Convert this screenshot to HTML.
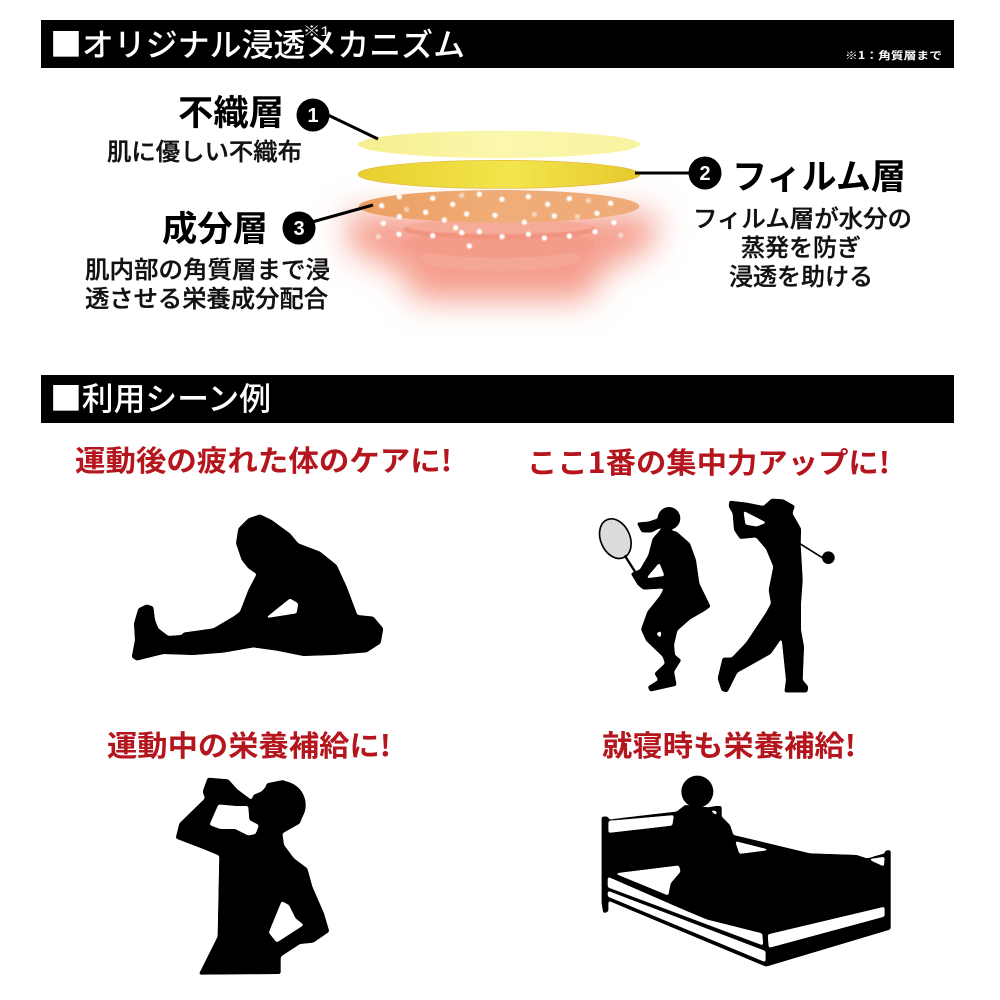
<!DOCTYPE html>
<html lang="ja">
<head>
<meta charset="utf-8">
<title>オリジナル浸透メカニズム</title>
<style>
html,body{margin:0;padding:0;background:#fff}
svg{display:block}
text{font-family:"Liberation Sans","Noto Sans CJK JP",sans-serif}
.t{font-family:"Noto Sans CJK JP",sans-serif;font-weight:500;font-size:24px;fill:#111;stroke:#111;stroke-width:.35px}
.h{font-family:"Noto Sans CJK JP",sans-serif;font-weight:700;font-size:35px;fill:#000}
.r{font-family:"Noto Sans CJK JP",sans-serif;font-weight:700;font-size:29px;fill:#b5161e}
.w{font-family:"Noto Sans CJK JP",sans-serif;font-weight:500;font-size:32px;fill:#fff}
</style>
</head>
<body>
<svg width="1000" height="1000" viewBox="0 0 1000 1000" xmlns="http://www.w3.org/2000/svg">
<defs>
<linearGradient id="l1" x1="0" x2="1" y1="0" y2="0"><stop offset="0" stop-color="#f6ee8e"/><stop offset=".5" stop-color="#fbf7ad"/><stop offset="1" stop-color="#f8f3a0"/></linearGradient>
<linearGradient id="l2" x1="0" x2="1" y1="0" y2="0"><stop offset="0" stop-color="#e8cf2e"/><stop offset=".55" stop-color="#f2e54c"/><stop offset="1" stop-color="#e6c92e"/></linearGradient>
<linearGradient id="l3" x1="0" x2="1" y1="0" y2="0"><stop offset="0" stop-color="#eb9f60"/><stop offset=".5" stop-color="#f0ad78"/><stop offset="1" stop-color="#efab78"/></linearGradient>
<radialGradient id="dot"><stop offset="0" stop-color="#fff"/><stop offset=".4" stop-color="#fff"/><stop offset="1" stop-color="#fff" stop-opacity="0"/></radialGradient>
<filter id="bl" x="-20%" y="-50%" width="140%" height="200%"><feGaussianBlur stdDeviation="1.5"/></filter>
<filter id="gl" filterUnits="userSpaceOnUse" x="-300" y="0" width="1600" height="900"><feGaussianBlur stdDeviation="48"/></filter>
<filter id="sm" x="-5%" y="-5%" width="110%" height="110%"><feGaussianBlur stdDeviation="3.5"/><feComponentTransfer><feFuncA type="linear" slope="7" intercept="-2.9"/></feComponentTransfer></filter>
<g id="d"><circle r="11" fill="url(#dot)"/></g>
</defs>

<!-- Header bars -->
<rect x="41" y="20" width="913" height="48" fill="#000"/>
<text class="w" x="50" y="56" textLength="415" lengthAdjust="spacingAndGlyphs">■オリジナル浸透メカニズム</text>
<text x="303" y="36" font-size="14" fill="#fff" textLength="27" lengthAdjust="spacingAndGlyphs">※1</text>
<text x="845" y="59" font-size="10.5" fill="#fff" style="font-family:'Noto Sans CJK JP',sans-serif;font-weight:700" textLength="97" lengthAdjust="spacingAndGlyphs">※1：角質層まで</text>
<rect x="41" y="375" width="913" height="48" fill="#000"/>
<text class="w" x="50" y="410" textLength="221" lengthAdjust="spacingAndGlyphs">■利用シーン例</text>

<!-- Layers -->
<g transform="translate(340,110) scale(.33333)">
<path d="M20 310L950 310L940 410L790 480L740 570L230 570L180 480L30 420Z" fill="#f59c8b" filter="url(#gl)"/>
<g filter="url(#bl)">
<ellipse cx="480" cy="445" rx="240" ry="38" fill="#f5a796"/>
<ellipse cx="480" cy="402" rx="285" ry="42" fill="#f39c8a"/>
<ellipse cx="480" cy="358" rx="290" ry="30" fill="#f2937f"/>
<ellipse cx="480" cy="350" rx="280" ry="22" fill="#f5ab98"/>
</g>
<ellipse cx="477" cy="103" rx="423" ry="41" fill="url(#l1)"/>
<ellipse cx="477" cy="193" rx="423" ry="42" fill="url(#l2)" stroke="#e6b93a" stroke-width="2"/>
<ellipse cx="477" cy="289" rx="421" ry="49" fill="url(#l3)"/>
<g>
<use href="#d" x="125" y="287"/><use href="#d" x="178" y="260"/><use href="#d" x="278" y="265"/><use href="#d" x="338" y="283"/><use href="#d" x="257" y="307"/><use href="#d" x="380" y="312"/><use href="#d" x="418" y="253"/><use href="#d" x="486" y="268"/><use href="#d" x="565" y="260"/><use href="#d" x="623" y="283"/><use href="#d" x="688" y="266"/><use href="#d" x="812" y="280"/><use href="#d" x="771" y="310"/><use href="#d" x="643" y="318"/><use href="#d" x="465" y="316"/><use href="#d" x="313" y="330"/><use href="#d" x="178" y="320"/><use href="#d" x="130" y="340"/><use href="#d" x="177" y="373"/><use href="#d" x="278" y="377"/><use href="#d" x="347" y="353"/><use href="#d" x="418" y="365"/><use href="#d" x="486" y="380"/><use href="#d" x="565" y="373"/><use href="#d" x="613" y="384"/><use href="#d" x="688" y="378"/><use href="#d" x="765" y="365"/><use href="#d" x="822" y="338"/><use href="#d" x="553" y="337"/><use href="#d" x="388" y="408"/><use href="#d" x="365" y="368"/><use href="#d" x="745" y="272" opacity=".5"/><use href="#d" x="583" y="313" opacity=".5"/><use href="#d" x="712" y="320" opacity=".5"/><use href="#d" x="200" y="298" opacity=".5"/><use href="#d" x="365" y="256" opacity=".5"/><use href="#d" x="115" y="380" opacity=".5"/><use href="#d" x="842" y="376" opacity=".5"/>
</g>
</g>

<!-- Connectors -->
<line x1="328" y1="115" x2="378" y2="139" stroke="#000" stroke-width="3"/>
<line x1="635" y1="173" x2="692" y2="173" stroke="#000" stroke-width="3"/>
<line x1="312" y1="222" x2="373" y2="205" stroke="#000" stroke-width="3"/>
<circle cx="313" cy="115" r="16.5" fill="#000"/>
<circle cx="705" cy="173" r="16.5" fill="#000"/>
<circle cx="299" cy="228" r="16.5" fill="#000"/>
<g fill="#fff" font-size="20" font-weight="700" text-anchor="middle">
<text x="313" y="122">1</text><text x="705" y="180">2</text><text x="299" y="235">3</text>
</g>

<!-- Labels -->
<text class="h" x="178" y="125" textLength="106" lengthAdjust="spacingAndGlyphs">不織層</text>
<text class="t" x="107" y="160" textLength="195" lengthAdjust="spacingAndGlyphs">肌に優しい不織布</text>
<text class="h" x="732" y="189" textLength="174" lengthAdjust="spacingAndGlyphs">フィルム層</text>
<text class="t" x="693" y="227" textLength="219" lengthAdjust="spacingAndGlyphs">フィルム層が水分の</text>
<text class="t" x="741" y="256" textLength="120" lengthAdjust="spacingAndGlyphs">蒸発を防ぎ</text>
<text class="t" x="729" y="285" textLength="144" lengthAdjust="spacingAndGlyphs">浸透を助ける</text>
<text class="h" x="162" y="241" textLength="106" lengthAdjust="spacingAndGlyphs">成分層</text>
<text class="t" x="85" y="278" textLength="245" lengthAdjust="spacingAndGlyphs">肌内部の角質層まで浸</text>
<text class="t" x="85" y="307" textLength="243" lengthAdjust="spacingAndGlyphs">透させる栄養成分配合</text>

<!-- Red headings -->
<text class="r" x="75" y="471" textLength="377" lengthAdjust="spacingAndGlyphs">運動後の疲れた体のケアに!</text>
<text class="r" x="527" y="473" textLength="363" lengthAdjust="spacingAndGlyphs">ここ1番の集中力アップに!</text>
<text class="r" x="107" y="756" textLength="284" lengthAdjust="spacingAndGlyphs">運動中の栄養補給に!</text>
<text class="r" x="602" y="756" textLength="254" lengthAdjust="spacingAndGlyphs">就寝時も栄養補給!</text>

<!-- Stretching silhouette -->
<g transform="translate(120,500) scale(.33333)">
<g filter="url(#sm)">
<path fill-rule="evenodd" d="M35 472L45 420L42 370L55 325L80 313L100 320L105 360L115 385L145 408L185 405L190 398L280 385L340 350L360 335L385 270L410 222L385 205L365 180L348 130L355 85L385 55L420 43L455 60L510 100L535 130L600 155L650 195L680 260L712 345L760 350L790 385L782 430L740 457L640 465L550 468L470 452L400 442L310 458L220 465L130 462L50 482Z M435 355L510 295L535 310L530 340Z"/>
</g>
</g>

<!-- Tennis + golf silhouettes -->
<g transform="translate(590,490) scale(.33333)">
<ellipse cx="76" cy="146" rx="44" ry="62" transform="rotate(-24 76 146)" fill="#dcdcdc" stroke="#000" stroke-width="5"/>
<path d="M104 196L135 245" stroke="#000" stroke-width="7" fill="none"/>
<g filter="url(#sm)">
<circle cx="237" cy="85" r="34"/>
<path d="M140 98L175 95L205 85L218 110L185 127L155 127Z"/>
<path fill-rule="evenodd" d="M215 115L260 125L300 160L318 210L328 280L362 350L342 364L300 388L262 422L252 465L255 495L274 510L252 545L260 587L180 605L173 590L205 570L193 550L225 520L218 500L168 452L153 418L172 365L208 320L222 295L160 299L143 285L122 250L150 238L175 195L188 145Z M168 265L208 218L224 258Z M198 430L214 422L212 446Z"/>
<path fill-rule="evenodd" d="M418 32L470 38L520 48L545 26L580 28L615 48L607 70L633 115L632 165L638 270L633 340L633 420L642 470L638 570L655 590L652 607L583 607L588 570L575 445L542 492L442 548L412 607L395 603L383 565L398 503L425 503L468 458L528 368L543 340L536 300L550 230L528 177L498 142L450 147L432 120L428 70L416 50Z M460 62L530 98L500 110L466 104Z"/>
</g>
<path d="M628 160L700 205" stroke="#000" stroke-width="5" fill="none"/>
<ellipse cx="715" cy="203" rx="19" ry="19"/>
</g>

<!-- Drinking silhouette -->
<g transform="translate(160,770) scale(.33333)">
<g filter="url(#sm)">
<circle cx="365" cy="105" r="72"/>
<path fill-rule="evenodd" d="M128 65L143 23L205 28L232 58L275 90L280 75L315 60L320 40L370 30L415 60L437 110L420 160L367 190L372 225L402 265L442 295L457 350L492 430L508 485L460 518L420 522L362 560L362 612L116 614L173 500L178 257L130 237L47 205L58 160L135 85Z M148 165L175 103L230 108L265 108L268 150L297 165L287 192L265 197L225 177L180 177Z M326 488L365 393L387 405L407 445L432 465L350 518Z"/>
</g>
</g>

<!-- Bed silhouette -->
<g transform="translate(590,770) scale(.33333)">
<ellipse cx="322" cy="65" rx="48" ry="48"/>
<g filter="url(#sm)">
<path fill-rule="evenodd" d="M35 140L55 140L55 148L260 125L285 105L355 112L378 108L395 108L395 140L420 165L430 195L660 250L800 255L830 265L885 250L885 242L902 240L902 478L528 590L55 392L55 425L40 430L35 400Z M55 153L252 135L247 167L55 189Z M435 213L542 240L448 252Z M835 268L884 260L882 290Z M73 310L267 286L272 305L242 340L235 377Z M53 320L290 423L350 448L517 490L520 527L53 352Z M53 362L527 543L527 577L53 380Z M533 493L884 410L884 440L536 534Z M358 120L380 123L380 137Z"/>
</g>
</g>
</svg>
</body>
</html>
